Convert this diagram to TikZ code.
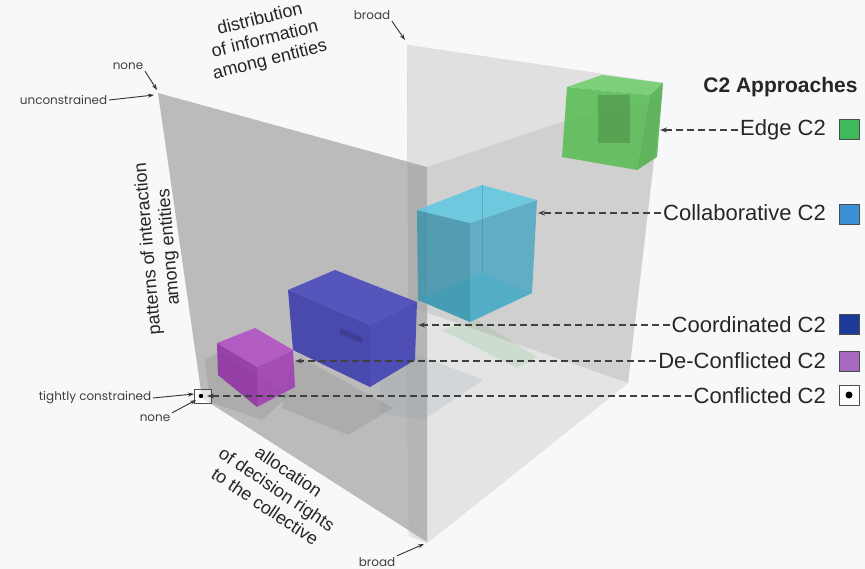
\documentclass[tikz,border=0pt]{standalone}
\usepackage{fontspec}
\setmainfont{Liberation Sans}
\newfontfamily\tickfont{Poppins}
\usetikzlibrary{arrows.meta}
\definecolor{paper}{RGB}{247,248,250}
\definecolor{wallback}{RGB}{208,208,208}
\definecolor{walltop}{RGB}{224,224,224}
\definecolor{wallfloor}{RGB}{228,228,228}
\definecolor{wallleft}{RGB}{162,162,162}
\definecolor{grtop}{RGB}{110,205,105}
\definecolor{grfront}{RGB}{85,188,80}
\definecolor{grside}{RGB}{78,175,74}
\definecolor{cytop}{RGB}{95,200,225}
\definecolor{cyleft}{RGB}{62,148,172}
\definecolor{cyright}{RGB}{78,168,195}
\definecolor{cybottom}{RGB}{105,205,228}
\definecolor{bltop}{RGB}{68,68,188}
\definecolor{blleft}{RGB}{55,55,172}
\definecolor{blright}{RGB}{60,60,180}
\definecolor{putop}{RGB}{178,76,198}
\definecolor{puleft}{RGB}{145,45,165}
\definecolor{puright}{RGB}{160,58,180}
\definecolor{keyedge}{RGB}{63,186,90}
\definecolor{keycollab}{RGB}{59,143,214}
\definecolor{keycoord}{RGB}{28,58,154}
\definecolor{keydecon}{RGB}{168,105,192}

\begin{document}
\begin{tikzpicture}[x=1pt,y=-1pt,
  pointer/.style={dash pattern=on 7pt off 4pt, line width=1.6pt, black!75, -{Stealth[length=7pt,width=5pt]}},
  tickarrow/.style={line width=0.9pt, black!80, -{Stealth[length=6pt,width=4pt]}},
  tick/.style={font=\tickfont\fontsize{12}{14}\selectfont, text=black!75, inner sep=1.5pt},
  axis/.style={font=\fontsize{18}{21}\selectfont, align=center, text=black!85},
  entry/.style={font=\fontsize{22}{26}\selectfont, text=black!85, anchor=east, inner sep=2pt},
  key/.style={draw=black!70, line width=0.6pt, minimum size=20pt, inner sep=0pt},
  face/.style={opacity=0.85},
  shadow/.style={fill=black, opacity=0.08}]
\useasboundingbox (0,0) rectangle (865,569);
\fill[paper] (0,0) rectangle (865,569);
% back wall
\fill[wallback] (407,45) -- (663,83) -- (628,383) -- (427,543) -- (409,536) -- cycle;
\fill[walltop] (407,45) -- (663,83) -- (662,98) -- (567,120) -- (427,167) -- (408,165) -- cycle;
\fill[wallfloor] (405,305) -- (628,383) -- (427,543) -- (409,536) -- cycle;
% left wall
\fill[wallleft,opacity=0.7] (158,93) -- (427,167) -- (427,542) -- (202,398) -- cycle;
% shadows
\fill[shadow] (205,360) -- (218,352) -- (290,395) -- (262,420) -- (210,402) -- cycle;
\fill[shadow] (290,365) -- (302,358) -- (393,408) -- (348,435) -- (282,408) -- cycle;
\fill[cyan!20!gray,opacity=0.18] (380,363) -- (413,353) -- (483,380) -- (423,420) -- (380,413) -- cycle;
\fill[green!40!gray,opacity=0.15] (442,330) -- (477,320) -- (537,357) -- (517,368) -- cycle;
% green box
\fill[grfront,face] (567,87) -- (650,95) -- (637,170) -- (562,157) -- cycle;
\fill[black!45!grfront,opacity=0.3] (598,95) rectangle (630,143);
\fill[grside,face] (650,95) -- (663,83) -- (657,157) -- (637,170) -- cycle;
\fill[grtop,face] (567,87) -- (602,75) -- (663,83) -- (650,95) -- cycle;
% cyan box
\fill[cybottom,face] (418,300) -- (482,273) -- (532,293) -- (470,322) -- cycle;
\fill[cyleft,face] (417,210) -- (470,223) -- (470,322) -- (418,300) -- cycle;
\fill[cyright,face] (470,223) -- (537,200) -- (532,293) -- (470,322) -- cycle;
\fill[cytop,face] (417,210) -- (482,185) -- (537,200) -- (470,223) -- cycle;
\draw[cyleft!70!black,opacity=0.3] (482,185) -- (482,273);
% blue box
\fill[blleft,face] (288,290) -- (370,325) -- (370,387) -- (293,350) -- cycle;
\fill[blright,face] (370,325) -- (417,302) -- (415,360) -- (370,387) -- cycle;
\fill[bltop,face] (288,290) -- (335,270) -- (417,302) -- (370,325) -- cycle;
\fill[black,opacity=0.15] (340,328) -- (362,337) -- (362,343) -- (340,334) -- cycle;
% purple box
\fill[puleft,face] (217,343) -- (257,367) -- (257,407) -- (218,375) -- cycle;
\fill[puright,face] (257,367) -- (293,350) -- (295,387) -- (257,407) -- cycle;
\fill[putop,face] (217,343) -- (255,328) -- (293,350) -- (257,367) -- cycle;
% conflicted point
\draw[black!70,fill=white,fill opacity=0.6,line width=0.6pt] (194,389) rectangle (211,403);
\fill[black] (201,396) circle (2.2);
% legend
\node[anchor=east, font=\bfseries\fontsize{21}{25}\selectfont, text=black!85] (title) at (861,87) {C2 Approaches};
\node[entry] (edge) at (828,130) {Edge C2};
\node[entry] (collab) at (828,213) {Collaborative C2};
\node[entry] (coord) at (828,325) {Coordinated C2};
\node[entry] (decon) at (828,361) {De-Conflicted C2};
\node[entry] (conf) at (828,396) {Conflicted C2};
\node[key, fill=keyedge] (kedge) at (849,129) {};
\node[key, fill=keycollab] (kcollab) at (849,214) {};
\node[key, fill=keycoord] (kcoord) at (849,324) {};
\node[key, fill=keydecon] (kdecon) at (849,361) {};
\node[key, fill=white] (kconf) at (849,395) {};
\fill[black] (kconf) circle (3.5);
\coordinate (pedge) at (660,130);
\coordinate (pcollab) at (538,213);
\coordinate (pcoord) at (418,325);
\coordinate (pdecon) at (295,361);
\coordinate (pconf) at (207,396);
\draw[pointer] (edge.west) -- (pedge);
\draw[pointer] (collab.west) -- (pcollab);
\draw[pointer] (coord.west) -- (pcoord);
\draw[pointer] (decon.west) -- (pdecon);
\draw[pointer] (conf.west) -- (pconf);
% axis labels
\node[axis, rotate=14] (distr) at (265,40) {distribution\\of information\\among entities};
\node[axis, rotate=95] (patt) at (159,248) {patterns of interaction\\among entities};
\node[axis, rotate=-34] (alloc) at (277,489) {allocation\\of decision rights\\to the collective};
% ticks
\node[tick, anchor=east] (unc) at (109,100) {unconstrained};
\node[tick] (nonetop) at (128,66) {none};
\node[tick] (broadtop) at (372,15) {broad};
\node[tick, anchor=east] (tight) at (153,398) {tightly constrained};
\node[tick] (nonebot) at (155,418) {none};
\node[tick] (broadbot) at (377,562) {broad};
\coordinate (tunc) at (154,95);
\coordinate (tnonetop) at (157,90);
\coordinate (tbroadtop) at (405,40);
\coordinate (ttight) at (194,394);
\coordinate (tnonebot) at (196,400);
\coordinate (tbroadbot) at (424,544);
\draw[tickarrow] (unc.east) -- (tunc);
\draw[tickarrow] (nonetop.south east) -- (tnonetop);
\draw[tickarrow] (broadtop.south east) -- (tbroadtop);
\draw[tickarrow] (tight.east) -- (ttight);
\draw[tickarrow] (nonebot.north east) -- (tnonebot);
\draw[tickarrow] (broadbot.north east) -- (tbroadbot);
\end{tikzpicture}
\end{document}
